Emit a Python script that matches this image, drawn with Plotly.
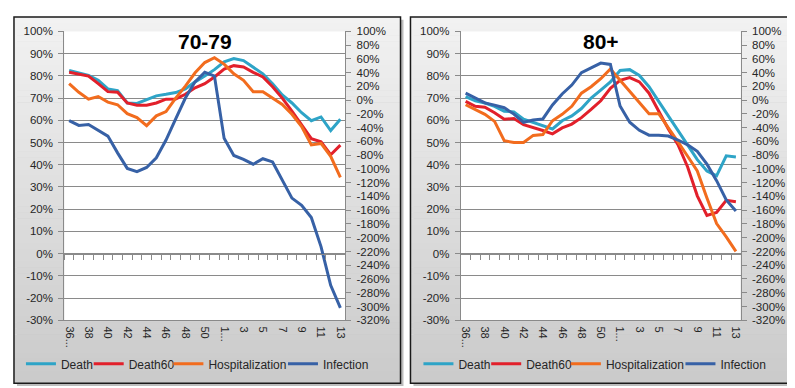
import plotly.graph_objects as go

# ---------------- data ----------------
weeks = [str(w) for w in range(36, 52)] + [str(w) for w in range(1, 14)]
week_tick_vals = weeks[::2]
week_tick_text = ["36..." if w == "36" else ("1..." if w == "1" else w) for w in week_tick_vals]

left_ticks = list(range(-30, 101, 10))
left_tick_text = [f"{v}%" for v in left_ticks]
right_ticks = list(range(-320, 101, 20))
right_tick_text = [f"{v}%" for v in right_ticks]

panel_titles = ["70-79", "80+"]
series_names = ["Death", "Death60", "Hospitalization", "Infection"]

# 70-79 (Death, Death60, Hospitalization on left axis; Infection on right axis)
death_7079 = [82.4, 81.4, 80.2, 78.0, 74.1, 73.4, 67.8, 67.6, 69.2, 71.0, 71.7, 72.5, 74.1, 77.3, 79.9,
              82.8, 86.3, 87.8, 86.9, 83.8, 80.9, 76.5, 71.4, 67.8, 63.4, 59.8, 61.5, 55.4, 60.5]
death60_7079 = [81.6, 80.9, 79.9, 76.5, 72.9, 72.6, 67.8, 66.8, 66.8, 67.8, 69.5, 69.6, 71.7, 74.6, 76.5,
                79.5, 83.1, 84.6, 84.0, 81.6, 79.5, 75.1, 70.0, 64.1, 58.0, 51.7, 50.3, 44.5, 48.8]
hosp_7079 = [76.5, 72.6, 69.5, 70.7, 68.2, 67.0, 63.0, 61.2, 57.6, 62.0, 63.9, 70.0, 75.4, 81.4, 86.0,
             88.2, 85.3, 80.9, 78.0, 72.9, 72.9, 70.0, 67.1, 62.7, 57.2, 48.9, 49.6, 43.8, 34.3]
inf_7079 = [-29.7, -36.7, -35.3, -43.8, -52.2, -76.6, -99.2, -103.9, -97.8, -83.7, -57.9, -27.3, 3.2, 26.7, 40.8,
            35.2, -55.5, -80.4, -86.0, -93.1, -85.1, -89.8, -116.0, -142.4, -153.0, -170.6, -212.9, -269.3, -302.1]

# 80+
death_80 = [70.7, 68.8, 67.8, 66.3, 64.1, 63.8, 60.5, 59.0, 57.6, 56.1, 59.8, 62.0, 65.3, 70.0, 73.6,
            77.3, 82.4, 82.8, 80.2, 75.1, 68.5, 62.0, 55.4, 48.8, 42.3, 37.2, 35.0, 44.0, 43.5]
death60_80 = [68.5, 66.3, 65.9, 63.4, 60.5, 60.8, 58.0, 56.8, 55.4, 53.9, 56.6, 58.3, 61.2, 64.9, 68.8,
              74.4, 78.0, 79.2, 77.3, 72.2, 64.1, 56.1, 49.0, 39.0, 26.0, 17.2, 18.5, 24.0, 23.3]
hosp_80 = [67.0, 64.9, 62.7, 59.5, 50.8, 50.0, 50.0, 53.2, 53.6, 59.8, 62.7, 66.3, 72.2, 75.1, 78.7,
           83.1, 78.0, 72.9, 67.8, 63.0, 63.0, 56.8, 50.3, 43.8, 37.2, 25.0, 13.5, 7.5, 1.0]
inf_80 = [10.2, 3.2, -3.9, -7.1, -10.9, -20.2, -32.1, -28.7, -27.3, -7.0, 9.0, 22.0, 40.0, 47.0, 54.0,
          52.0, -8.5, -32.1, -43.8, -50.8, -50.8, -52.2, -57.9, -64.9, -74.3, -93.0, -117.0, -145.0, -161.0]

# ---------------- styling ----------------
W, H = 795, 388
colors = {"Death": "#2EA4C7", "Death60": "#E2202B", "Hospitalization": "#F26C1E", "Infection": "#3761A6"}
FONT = "Liberation Sans"
TXT = "#262626"
GRID = "#8A8A8A"

def fx(px):
    return px / W

def fy(py):
    return 1 - py / H

plot_top, plot_bot = 18, 316
y_dom = [fy(plot_bot), fy(plot_top)]
zero_pos = fy(plot_top + (100 / 130) * (plot_bot - plot_top))

panels = [
    dict(box=(5, 3, 393, 381), plot=(55.5, 337.5), title=panel_titles[0],
         data=[death_7079, death60_7079, hosp_7079, inf_7079],
         xa="x", ya="y", ya2="y2", xa0="x3",
         legends=["legend", "legend2", "legend3", "legend4"],
         legend_text_x=[59, 127, 207, 322]),
    dict(box=(403, 3, 791, 381), plot=(453.5, 734.5), title=panel_titles[1],
         data=[death_80, death60_80, hosp_80, inf_80],
         xa="x2", ya="y3", ya2="y4", xa0="x4",
         legends=["legend5", "legend6", "legend7", "legend8"],
         legend_text_x=[458, 526, 606, 721]),
]

fig = go.Figure()
shapes = []
annotations = []
layout = {}

def axname(a):
    return ("xaxis" if a[0] == "x" else "yaxis") + a[1:]

for p in panels:
    bx0, by0, bx1, by1 = p["box"]
    # shadow
    shapes.append(dict(type="rect", xref="paper", yref="paper", layer="below",
                       x0=fx(bx0 + 3), x1=fx(bx1 + 3), y0=fy(by1 + 3), y1=fy(by0 + 3),
                       line=dict(width=0), fillcolor="#BDBDBD"))
    # gradient stripes
    n = 60
    for k in range(n):
        t = k / (n - 1)
        c = int(242 - t * (242 - 203))
        ya0 = by0 + (by1 - by0) * k / n
        ya1 = by0 + (by1 - by0) * (k + 1) / n + 0.5
        shapes.append(dict(type="rect", xref="paper", yref="paper", layer="below",
                           x0=fx(bx0), x1=fx(bx1), y0=fy(min(ya1, by1)), y1=fy(ya0),
                           line=dict(width=0), fillcolor=f"rgb({c},{c},{c})"))
    # plot area white
    shapes.append(dict(type="rect", xref="paper", yref="paper", layer="below",
                       x0=fx(p["plot"][0]), x1=fx(p["plot"][1]), y0=y_dom[0], y1=y_dom[1],
                       line=dict(width=0), fillcolor="white"))
    # border
    shapes.append(dict(type="rect", xref="paper", yref="paper", layer="above",
                       x0=fx(bx0), x1=fx(bx1), y0=fy(by1), y1=fy(by0),
                       line=dict(width=1.5, color="#1A1A1A"), fillcolor="rgba(0,0,0,0)"))

    xdom = [fx(p["plot"][0]), fx(p["plot"][1])]
    xtickfont = dict(family=FONT, size=11, color=TXT)
    ytickfont = dict(family=FONT, size=11.5, color=TXT)
    layout[axname(p["xa"])] = dict(
        domain=xdom, anchor=p["ya"], type="category", categoryorder="array", categoryarray=weeks,
        range=[-0.5, len(weeks) - 0.5], tickmode="array", tickvals=week_tick_vals, ticktext=week_tick_text,
        tickangle=90, ticks="", showline=True, linecolor=GRID, linewidth=1, showgrid=False,
        tickfont=xtickfont, ticklabelstandoff=3, zeroline=False)
    layout[axname(p["xa0"])] = dict(
        overlaying=p["xa"], anchor="free", position=zero_pos, type="category", categoryorder="array",
        categoryarray=weeks, range=[-0.5, len(weeks) - 0.5], tickmode="array", tickvals=weeks,
        ticks="outside", tickson="boundaries", ticklen=5, tickcolor=GRID, showticklabels=False,
        showline=True, linecolor=GRID, linewidth=1, showgrid=False, zeroline=False)
    layout[axname(p["ya"])] = dict(
        domain=y_dom, anchor=p["xa"], range=[-30, 100], tickmode="array", tickvals=left_ticks,
        ticktext=left_tick_text, ticks="outside", ticklen=5, tickcolor=GRID, showline=True,
        linecolor=GRID, linewidth=1, showgrid=True, gridcolor=GRID, gridwidth=1, zeroline=False,
        tickfont=ytickfont, ticklabelstandoff=3)
    layout[axname(p["ya2"])] = dict(
        overlaying=p["ya"], side="right", anchor=p["xa"], range=[-320, 100], tickmode="array",
        tickvals=right_ticks, ticktext=right_tick_text, ticks="outside", ticklen=5, tickcolor=GRID,
        showline=True, linecolor=GRID, linewidth=1, showgrid=False, zeroline=False,
        tickfont=ytickfont, ticklabelstandoff=3)

    for name, vals, lg, tx in zip(series_names, p["data"], p["legends"], p["legend_text_x"]):
        on_right = name == "Infection"
        fig.add_trace(go.Scatter(
            x=weeks, y=vals, name=name, mode="lines",
            line=dict(color=colors[name], width=3),
            xaxis=p["xa0"] if on_right else p["xa"],
            yaxis=p["ya2"] if on_right else p["ya"],
            legend=lg, hoverinfo="skip"))
        layout[lg] = dict(
            orientation="h", x=fx(tx - 47), xanchor="left", y=fy(361), yanchor="middle",
            bgcolor="rgba(0,0,0,0)", font=dict(family=FONT, size=12, color=TXT),
            itemwidth=30, borderwidth=0)

    annotations.append(dict(
        text=f"<b>{p['title']}</b>", xref="paper", yref="paper",
        x=(xdom[0] + xdom[1]) / 2, y=fy(28), xanchor="center", yanchor="middle",
        showarrow=False, font=dict(family=FONT, size=21, color="#000000")))

fig.update_layout(
    width=W, height=H, autosize=False, margin=dict(l=0, r=0, t=0, b=0),
    paper_bgcolor="white", plot_bgcolor="white",
    shapes=shapes, annotations=annotations, showlegend=True, **layout)

fig.write_html("out.html")
